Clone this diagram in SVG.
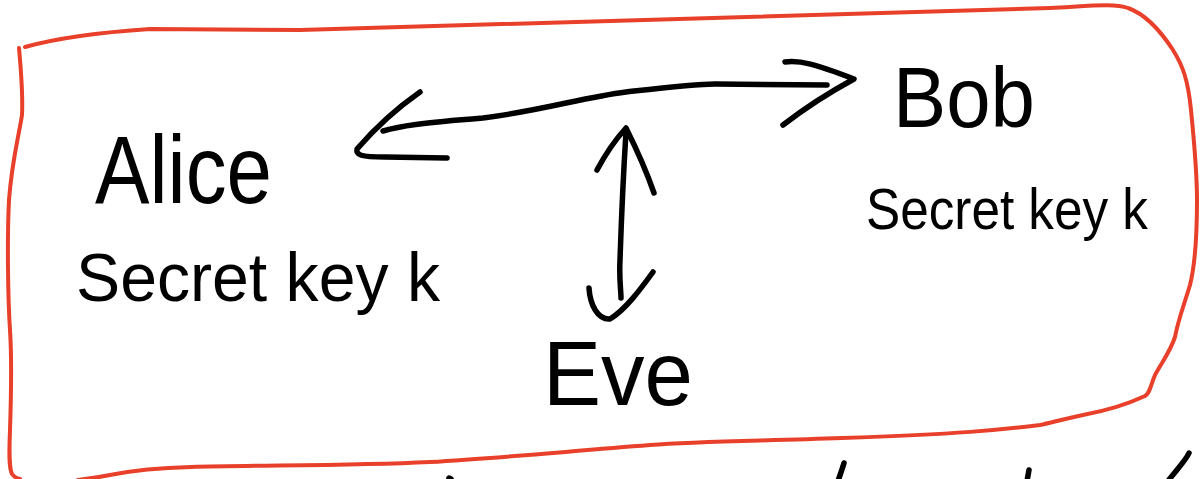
<svg xmlns="http://www.w3.org/2000/svg" width="1200" height="479" viewBox="0 0 1200 479">
  <style>
    .ink { fill: none; stroke: #000; stroke-width: 5.5; stroke-linecap: round; stroke-linejoin: round; }
    .frame { fill: none; stroke: #E8402A; stroke-width: 4; stroke-linecap: round; stroke-linejoin: round; }
    .name { font-family: "Liberation Sans", "DejaVu Sans", sans-serif; fill: #000; }
  </style>
  <rect width="1200" height="479" fill="#fff"/>

  <!-- red hand-drawn frame -->
  <g id="frame">
    <path class="frame" d="M25,47 C50,40 90,33 150,29 L300,30 C600,22 900,14 1050,8 C1090,6 1115,3 1128,8 C1145,14 1160,30 1173,50 C1183,66 1188,80 1191,110 C1194,140 1197,170 1197,200 C1197,240 1195,265 1190,285 C1184,305 1178,320 1175,337 C1170,352 1162,362 1155,375 C1150,387 1150,393 1145,396 C1130,403 1110,410 1083,415 C1060,420 1050,423 1040,425 C1000,430 960,434 842,438 C760,441 700,441 650,445 C560,452 500,458 430,462 C350,466 260,465 191,467 C150,468 125,472 110,475 C95,478 85,479 78,480"/>
    <path class="frame" d="M19,48 C21,70 23,95 22,115 C19,135 12,160 9,200 C7,240 8,300 10,330 C12,360 11,400 10,430 C9,455 9,468 12,474 C14,477 16,478 20,479"/>
  </g>

  <!-- connectors -->
  <g id="connectors">
    <!-- Alice <-> Bob -->
    <path class="ink" d="M383,131 C400,126 420,123 483,118 C540,111 585,97 626,92 C670,87 695,84 715,84 L827,85"/>
    <path class="ink" d="M785,62 C800,60 815,64 854,79 C830,92 805,108 783,125"/>
    <path class="ink" d="M420,92 C400,106 376,127 357,149 C356,155 360,157 385,157 L447,158"/>
    <!-- Eve <-> channel -->
    <path class="ink" d="M626,132 C623,180 621,230 620,260 C619,280 621,290 621,298"/>
    <path class="ink" d="M597,170 C605,155 615,140 626,128 C636,148 646,170 654,193"/>
    <path class="ink" d="M589,288 C590,305 598,320 610,319 C625,310 640,290 653,272"/>
  </g>

  <g id="alice">
    <text class="name" x="95" y="203" font-size="96" textLength="177" lengthAdjust="spacingAndGlyphs">Alice</text>
    <text class="name" x="76" y="301" font-size="68" textLength="364" lengthAdjust="spacingAndGlyphs">Secret key k</text>
  </g>

  <g id="bob">
    <text class="name" x="893" y="127" font-size="86" textLength="142" lengthAdjust="spacingAndGlyphs">Bob</text>
    <text class="name" x="866" y="229" font-size="58" textLength="282" lengthAdjust="spacingAndGlyphs">Secret key k</text>
  </g>

  <g id="eve">
    <text class="name" x="543" y="405" font-size="90" textLength="150" lengthAdjust="spacingAndGlyphs">Eve</text>
  </g>

  <!-- strokes of the next line, cut off at the lower edge -->
  <g id="cut-strokes">
    <path class="ink" d="M449,478 L451,479"/>
    <path class="ink" d="M844,463 C842,470 840,475 838,481"/>
    <path class="ink" d="M1029,470 L1027,481"/>
    <path class="ink" d="M1189,453 C1186,460 1178,468 1168,481"/>
  </g>
</svg>
